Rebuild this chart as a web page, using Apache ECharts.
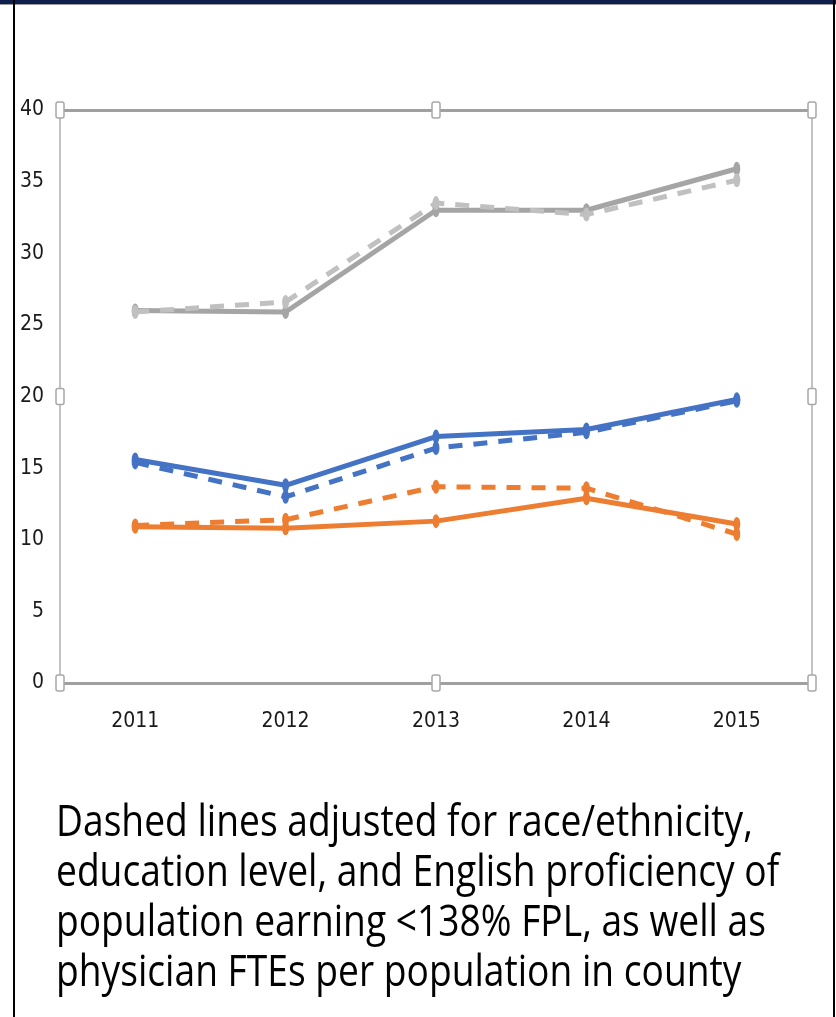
<!DOCTYPE html>
<html>
<head>
<meta charset="utf-8">
<script src="https://cdn.jsdelivr.net/npm/echarts@6/dist/echarts.min.js"></script>
<style>
  html, body { margin: 0; padding: 0; background: #fff; }
  #chart { width: 836px; height: 1017px; }
</style>
</head>
<body>
<div id="chart"></div>
<script>
// categories and values
const years = ['2011', '2012', '2013', '2014', '2015']
const greySolid = [26.0, 25.9, 33.0, 33.0, 35.9]
const greyDashed = [25.9, 26.6, 33.5, 32.7, 35.1]
const blueSolid = [15.6, 13.8, 17.2, 17.7, 19.8]
const blueDashed = [15.4, 13.0, 16.4, 17.5, 19.7]
const orangeSolid = [10.9, 10.8, 11.3, 12.9, 11.1]
const orangeDashed = [11.0, 11.4, 13.7, 13.6, 10.4]
const caption = [
  'Dashed lines adjusted for race/ethnicity,',
  'education level, and English proficiency of',
  'population earning <138% FPL, as well as',
  'physician FTEs per population in county'
]

const grid = { left: 60, top: 110, width: 752, height: 573 }
const labelFont = '"Liberation Sans Narrow", "DejaVu Sans Condensed", "Liberation Sans", sans-serif'

const chart = echarts.init(document.getElementById('chart'), null, { renderer: 'canvas' })

const makeLine = (name, data, color, dashed) => ({
  name: name,
  type: 'line',
  data: data,
  symbol: 'circle',
  symbolSize: [7, 14],
  showSymbol: true,
  itemStyle: { color: color },
  lineStyle: { color: color, width: 5, type: dashed ? [14, 11] : 'solid', cap: 'butt' },
  z: dashed ? 4 : 3,
  silent: true
})

// selection handles around the plot frame
const handles = []
const hx = [grid.left, grid.left + grid.width / 2, grid.left + grid.width]
const hy = [grid.top, grid.top + grid.height / 2, grid.top + grid.height]
hx.forEach((x, i) => {
  hy.forEach((y, j) => {
    if (i === 1 && j === 1) return
    handles.push({
      type: 'rect',
      shape: { x: x - 4, y: y - 8, width: 8, height: 16, r: 2 },
      style: { fill: '#fff', stroke: '#a8a8a8', lineWidth: 1.5 },
      z: 10
    })
  })
})

const option = {
  animation: false,
  backgroundColor: '#fff',
  grid: {
    left: grid.left, top: grid.top, width: grid.width, height: grid.height,
    show: true, borderColor: '#c4c4c4', borderWidth: 2, backgroundColor: 'transparent'
  },
  xAxis: [
    {
      type: 'category',
      data: years,
      boundaryGap: true,
      axisLine: { lineStyle: { color: '#a0a0a0', width: 3 } },
      axisTick: { show: false },
      axisLabel: {
        color: '#1a1a1a', fontSize: 21, fontFamily: labelFont, margin: 28
      }
    },
    {
      type: 'category',
      data: years,
      position: 'top',
      axisLine: { lineStyle: { color: '#a0a0a0', width: 3 } },
      axisTick: { show: false },
      axisLabel: { show: false }
    }
  ],
  yAxis: {
    type: 'value',
    min: 0, max: 40, interval: 5,
    axisLine: { show: false },
    axisTick: { show: false },
    splitLine: { show: false },
    axisLabel: {
      color: '#1a1a1a', fontSize: 21, fontFamily: labelFont, margin: 16
    }
  },
  series: [
    makeLine('Grey', greySolid, '#a5a5a5', false),
    makeLine('Blue', blueSolid, '#4472c4', false),
    makeLine('Orange', orangeSolid, '#ed7d31', false),
    makeLine('Grey adjusted', greyDashed, '#c0c0c0', true),
    makeLine('Blue adjusted', blueDashed, '#4472c4', true),
    makeLine('Orange adjusted', orangeDashed, '#ed7d31', true)
  ],
  graphic: [
    // outer frame
    { type: 'rect', shape: { x: 0, y: 0, width: 836, height: 4 }, style: { fill: '#0e1f4d' }, z: 20 },
    { type: 'rect', shape: { x: 0, y: 4, width: 836, height: 1 }, style: { fill: '#9a9a9a' }, z: 20 },
    { type: 'rect', shape: { x: 13, y: 0, width: 2, height: 1017 }, style: { fill: '#000' }, z: 20 },
    { type: 'rect', shape: { x: 833, y: 0, width: 2, height: 1017 }, style: { fill: '#000' }, z: 20 },
    ...handles,
    {
      type: 'text',
      x: 56, y: 798,
      scaleX: 0.845, scaleY: 1,
      style: {
        text: caption.join('\n'),
        font: '44px "Open Sans"',
        fill: '#000',
        lineHeight: 50
      },
      z: 20
    }
  ]
}

chart.setOption(option)
</script>
</body>
</html>
